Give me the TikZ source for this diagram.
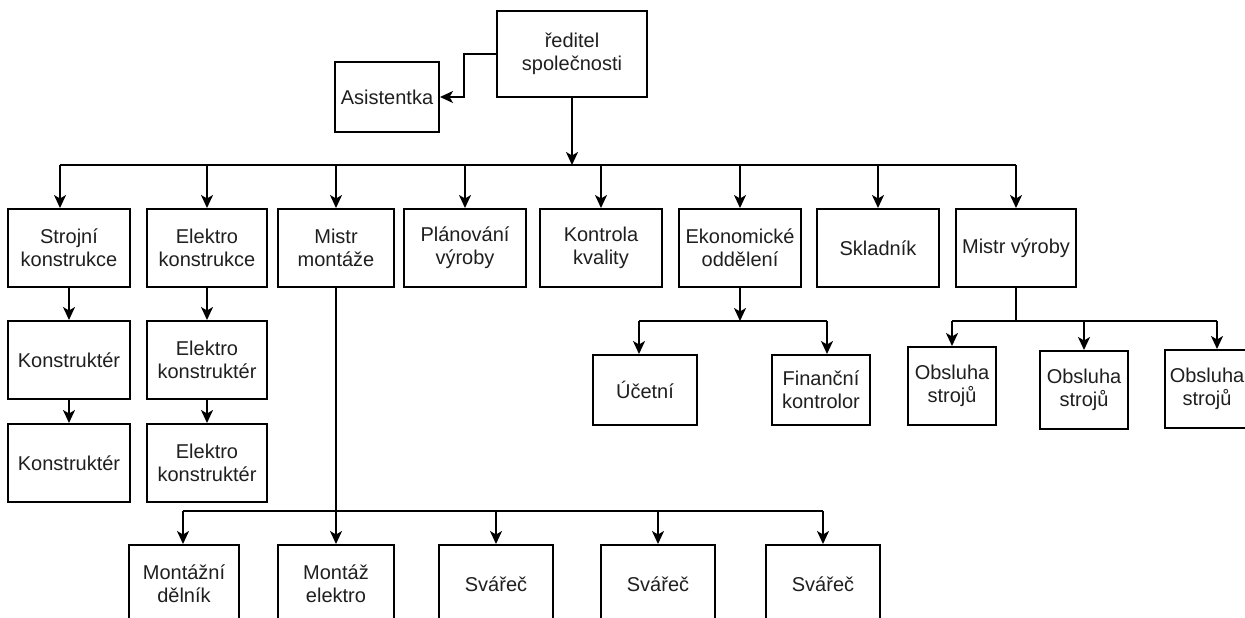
\documentclass[tikz,border=0pt]{standalone}
\usepackage{fontspec}
\setmainfont{Liberation Sans}
\usetikzlibrary{arrows.meta}

\begin{document}
\begin{tikzpicture}[x=1pt, y=-1pt,
  box/.style={draw=black, line width=2pt, fill=white, inner sep=0pt,
    align=center, text=black!88, font=\fontsize{20pt}{23pt}\selectfont},
  link/.style={draw=black, line width=2pt},
  arr/.style={link, -{Stealth[length=13pt, width=12pt, inset=3.5pt]}}]

\useasboundingbox (0,0) rectangle (1245,618);
\clip (0,0) rectangle (1245,618);
\fill[white] (0,0) rectangle (1245,618);

% top management
\node[box, minimum width=150pt, minimum height=86pt] (dir) at (572,54) {ředitel\\společnosti};
\node[box, minimum width=104pt, minimum height=70pt] (asis) at (387,97) {Asistentka};

% departments
\node[box, minimum width=122pt, minimum height=78pt] (strojni)  at (69,248)   {Strojní\\konstrukce};
\node[box, minimum width=120pt, minimum height=78pt] (elkon)    at (207,248)  {Elektro\\konstrukce};
\node[box, minimum width=116pt, minimum height=78pt] (mistrm)   at (336,248)  {Mistr\\montáže};
\node[box, minimum width=122pt, minimum height=78pt] (plan)     at (465,248)  {Plánování\\výroby};
\node[box, minimum width=122pt, minimum height=78pt] (kontrola) at (601,248)  {Kontrola\\kvality};
\node[box, minimum width=122pt, minimum height=78pt] (ekon)     at (740,248)  {Ekonomické\\oddělení};
\node[box, minimum width=122pt, minimum height=78pt] (sklad)    at (878,248)  {Skladník};
\node[box, minimum width=120pt, minimum height=78pt] (mistrv)   at (1016,248) {Mistr výroby};

% design staff
\node[box, minimum width=122pt, minimum height=78pt] (konstr1) at (69,360)  {Konstruktér};
\node[box, minimum width=122pt, minimum height=78pt] (konstr2) at (69,463)  {Konstruktér};
\node[box, minimum width=120pt, minimum height=78pt] (elk1)    at (207,360) {Elektro\\konstruktér};
\node[box, minimum width=120pt, minimum height=78pt] (elk2)    at (207,463) {Elektro\\konstruktér};

% economics staff
\node[box, minimum width=104pt, minimum height=70pt] (ucet) at (645,390) {Účetní};
\node[box, minimum width=98pt,  minimum height=70pt] (fin)  at (821,390) {Finanční\\kontrolor};

% machine operators
\node[box, minimum width=88pt, minimum height=78pt] (obs1) at (952,386)  {Obsluha\\strojů};
\node[box, minimum width=88pt, minimum height=78pt] (obs2) at (1084,390) {Obsluha\\strojů};
\node[box, minimum width=84pt, minimum height=78pt] (obs3) at (1207,389) {Obsluha\\strojů};

% assembly staff
\node[box, minimum width=110pt, minimum height=78pt] (montd) at (184,584) {Montážní\\dělník};
\node[box, minimum width=116pt, minimum height=78pt] (monte) at (336,584) {Montáž\\elektro};
\node[box, minimum width=114pt, minimum height=78pt] (sv1)   at (496,584) {Svářeč};
\node[box, minimum width=114pt, minimum height=78pt] (sv2)   at (658,584) {Svářeč};
\node[box, minimum width=114pt, minimum height=78pt] (sv3)   at (823,584) {Svářeč};

% bus coordinates
\coordinate (ak)   at (464,97);
\coordinate (bus)  at (572,165);
\coordinate (busL) at (60,165);
\coordinate (busR) at (1016,165);
\coordinate (eJ)   at (740,321);
\coordinate (eL)   at (639,321);
\coordinate (eR)   at (827,321);
\coordinate (vL)   at (952,321);
\coordinate (vR)   at (1217,321);
\coordinate (mL)   at (183,511);
\coordinate (mR)   at (823,511);

% director links
\draw[arr] (dir.west) -| (ak) -- (asis.east);
\draw[arr] (dir.south) -- (bus);
\draw[link] (busL) -- (busR);
\draw[arr] (busL) -- (busL |- strojni.north);
\foreach \n in {elkon,mistrm,plan,kontrola,ekon,sklad,mistrv}
  \draw[arr] (\n.north |- busL) -- (\n.north);

% design chains
\draw[arr] (strojni.south) -- (konstr1.north);
\draw[arr] (konstr1.south) -- (konstr2.north);
\draw[arr] (elkon.south) -- (elk1.north);
\draw[arr] (elk1.south) -- (elk2.north);

% economics branch
\draw[arr] (ekon.south) -- (eJ);
\draw[link] (eL) -- (eR);
\draw[arr] (eL) -- (eL |- ucet.north);
\draw[arr] (eR) -- (eR |- fin.north);

% production branch
\draw[link] (mistrv.south) -- (mistrv.south |- vL);
\draw[link] (vL) -- (vR);
\draw[arr] (vL) -- (vL |- obs1.north);
\draw[arr] (obs2.north |- vL) -- (obs2.north);
\draw[arr] (vR) -- (vR |- obs3.north);

% assembly branch
\draw[arr] (mistrm.south) -- (monte.north);
\draw[link] (mL) -- (mR);
\draw[arr] (mL) -- (mL |- montd.north);
\draw[arr] (sv1.north |- mL) -- (sv1.north);
\draw[arr] (sv2.north |- mL) -- (sv2.north);
\draw[arr] (mR) -- (mR |- sv3.north);
\end{tikzpicture}
\end{document}
